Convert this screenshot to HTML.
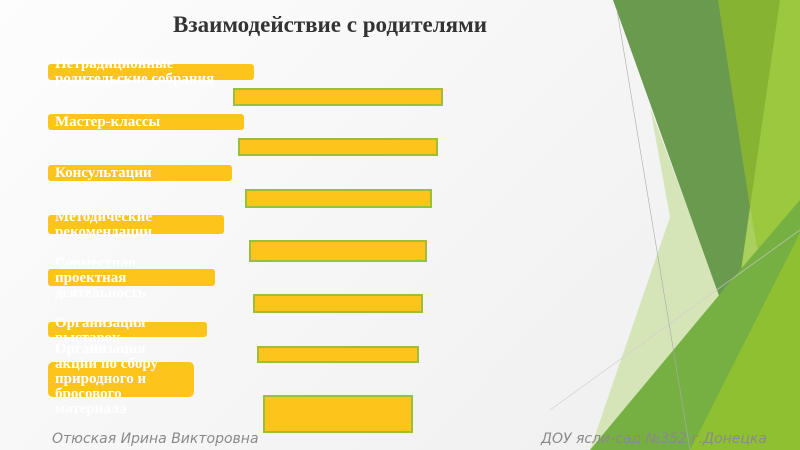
<!DOCTYPE html>
<html><head><meta charset="utf-8"><style>
body{margin:0}
#s{position:relative;width:800px;height:450px;overflow:hidden;background:linear-gradient(135deg,#fdfdfd,#eeeeee)}
.l{position:absolute;left:48px;background:#fdc41b;border-radius:3px}
.t{position:absolute;left:55px;color:#fff;font:bold 15px/15px "Liberation Serif",serif;white-space:nowrap}
.r{position:absolute;background:#fdc41b;border:2px solid #9cbf3a;box-sizing:border-box}
.f{position:absolute;top:431px;color:#8a8a8a;font:italic 14px "DejaVu Sans",sans-serif}
</style></head><body><div id="s">
<svg width="800" height="450" style="position:absolute;left:0;top:0">
<polygon points="718,0 800,0 800,450 700,450 733,332" fill="#9bc83f"/>
<polygon points="718,0 780,0 750,207" fill="#86b332"/>
<polygon points="750,207 765,293 730,360" fill="#a9d05e"/>
<polygon points="650,107 733,332 590,450 670,217" fill="#d6e5b8"/>
<polygon points="613,0 718,0 750,207 732,332" fill="#6a9a4e"/>
<polygon points="590,450 740,270 800,200 800,450" fill="#76b043"/>
<polygon points="690,450 800,233 800,450" fill="#8fc031"/>
<line x1="617" y1="10" x2="690" y2="450" stroke="#aaa" stroke-width="0.6"/>
<line x1="550" y1="410" x2="800" y2="230" stroke="#ccc" stroke-width="0.6"/>
</svg>
<div style="position:absolute;left:0;width:660px;top:12px;text-align:center;font:bold 23px 'Liberation Serif',serif;color:#333">Взаимодействие с родителями</div>
<div class="l" style="top:64px;width:206px;height:16px"></div><div class="t" style="top:57px">Нетрадиционные<br>родительские собрания</div>
<div class="r" style="left:233px;top:88px;width:210px;height:18px"></div>
<div class="l" style="top:114px;width:196px;height:16px"></div><div class="t" style="top:115px">Мастер-классы</div>
<div class="r" style="left:238px;top:138px;width:200px;height:18px"></div>
<div class="l" style="top:165px;width:184px;height:16px"></div><div class="t" style="top:166px">Консультации</div>
<div class="r" style="left:245px;top:189px;width:187px;height:19px"></div>
<div class="l" style="top:215px;width:176px;height:19px"></div><div class="t" style="top:210px">Методические<br>рекомендации</div>
<div class="r" style="left:249px;top:240px;width:178px;height:22px"></div>
<div class="l" style="top:269px;width:167px;height:17px"></div><div class="t" style="top:256px">Совместная<br>проектная<br>деятельность</div>
<div class="r" style="left:253px;top:294px;width:170px;height:19px"></div>
<div class="l" style="top:322px;width:159px;height:15px"></div><div class="t" style="top:316px">Организация<br>выставок</div>
<div class="r" style="left:257px;top:346px;width:162px;height:17px"></div>
<div class="l" style="top:362px;width:146px;height:35px;border-radius:5px"></div><div class="t" style="top:342px;line-height:15px">Организация<br>акции по сбору<br>природного и<br>бросового<br>материала</div>
<div class="r" style="left:263px;top:395px;width:150px;height:38px"></div>
<div class="f" style="left:52px">Отюская Ирина Викторовна</div>
<div class="f" style="left:541px">ДОУ ясли-сад №352 г.Донецка</div>
</div></body></html>
